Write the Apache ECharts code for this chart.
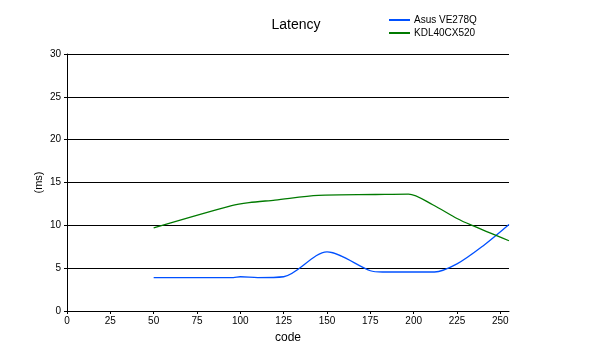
<!DOCTYPE html>
<html>
<head>
<meta charset="utf-8">
<script src="https://cdn.jsdelivr.net/npm/echarts@6/dist/echarts.min.js"></script>
<style>html,body{margin:0;padding:0;background:#fff;}#c{width:600px;height:356px;}</style>
</head>
<body>
<div id="c"></div>
<script>
var titleText = 'Latency';
var xName = 'code';
var yName = '(ms)';
var seriesNames = ['Asus VE278Q', 'KDL40CX520'];
var xTicks = [0, 25, 50, 75, 100, 125, 150, 175, 200, 225, 250];
var asusCodes = [50, 96, 100, 110, 125, 150, 175, 182, 212, 225, 240, 255];
var asusValues = [3.9, 3.9, 4.0, 3.9, 4.0, 6.9, 4.7, 4.55, 4.55, 5.5, 7.6, 10.1];
var kdlCodes = [50, 95, 105, 120, 145, 178, 197, 211, 225, 233, 255];
var kdlValues = [9.7, 12.3, 12.65, 12.95, 13.5, 13.6, 13.65, 12.4, 10.8, 10.05, 8.2];

function pairs(xs, ys) { return xs.map(function (x, i) { return [x, ys[i]]; }); }

var font = 'Liberation Sans, Arial, sans-serif';
var chart = echarts.init(document.getElementById('c'), null, { renderer: 'canvas' });
chart.setOption({
  animation: false,
  backgroundColor: '#ffffff',
  title: {
    text: titleText, left: 291, top: 13, textAlign: 'center',
    textStyle: { fontFamily: font, fontSize: 14, fontWeight: 'normal', color: '#000' }
  },
  legend: {
    orient: 'vertical', left: 389, top: 15, padding: 0, itemWidth: 21, itemHeight: 2, itemGap: 3,
    icon: 'rect',
    textStyle: { fontFamily: font, fontSize: 10, color: '#000', padding: [0, 0, 0, -1] },
    data: seriesNames
  },
  grid: { left: 67, right: 91, top: 54, bottom: 45, containLabel: false },
  xAxis: {
    type: 'value', min: 0, max: 255,
    name: xName, nameLocation: 'middle', nameGap: 21, nameMoveOverlap: false,
    nameTextStyle: { fontFamily: font, fontSize: 12, color: '#000' },
    axisLine: { lineStyle: { color: '#000', width: 1 } },
    axisTick: { show: true, length: 3, customValues: xTicks, lineStyle: { color: '#000' } },
    axisLabel: { customValues: xTicks, fontFamily: font, fontSize: 10, color: '#000', margin: 5 },
    splitLine: { show: false }
  },
  yAxis: {
    type: 'value', min: 0, max: 30, interval: 5,
    name: yName, nameLocation: 'middle', nameGap: 23, nameRotate: 90, nameMoveOverlap: false,
    nameTextStyle: { fontFamily: font, fontSize: 11, color: '#000' },
    axisLine: { show: true, lineStyle: { color: '#000', width: 1 } },
    axisTick: { show: true, length: 3, lineStyle: { color: '#000' } },
    axisLabel: { fontFamily: font, fontSize: 10, color: '#000', margin: 6 },
    splitLine: { show: true, lineStyle: { color: '#000', width: 1 } }
  },
  series: [
    {
      name: seriesNames[0], type: 'line', data: pairs(asusCodes, asusValues),
      smooth: 0.3, showSymbol: false, color: '#0050ff',
      lineStyle: { color: '#0050ff', width: 1.3 }
    },
    {
      name: seriesNames[1], type: 'line', data: pairs(kdlCodes, kdlValues),
      smooth: 0.3, showSymbol: false, color: '#007a00',
      lineStyle: { color: '#007a00', width: 1.3 }
    }
  ]
});
</script>
</body>
</html>
